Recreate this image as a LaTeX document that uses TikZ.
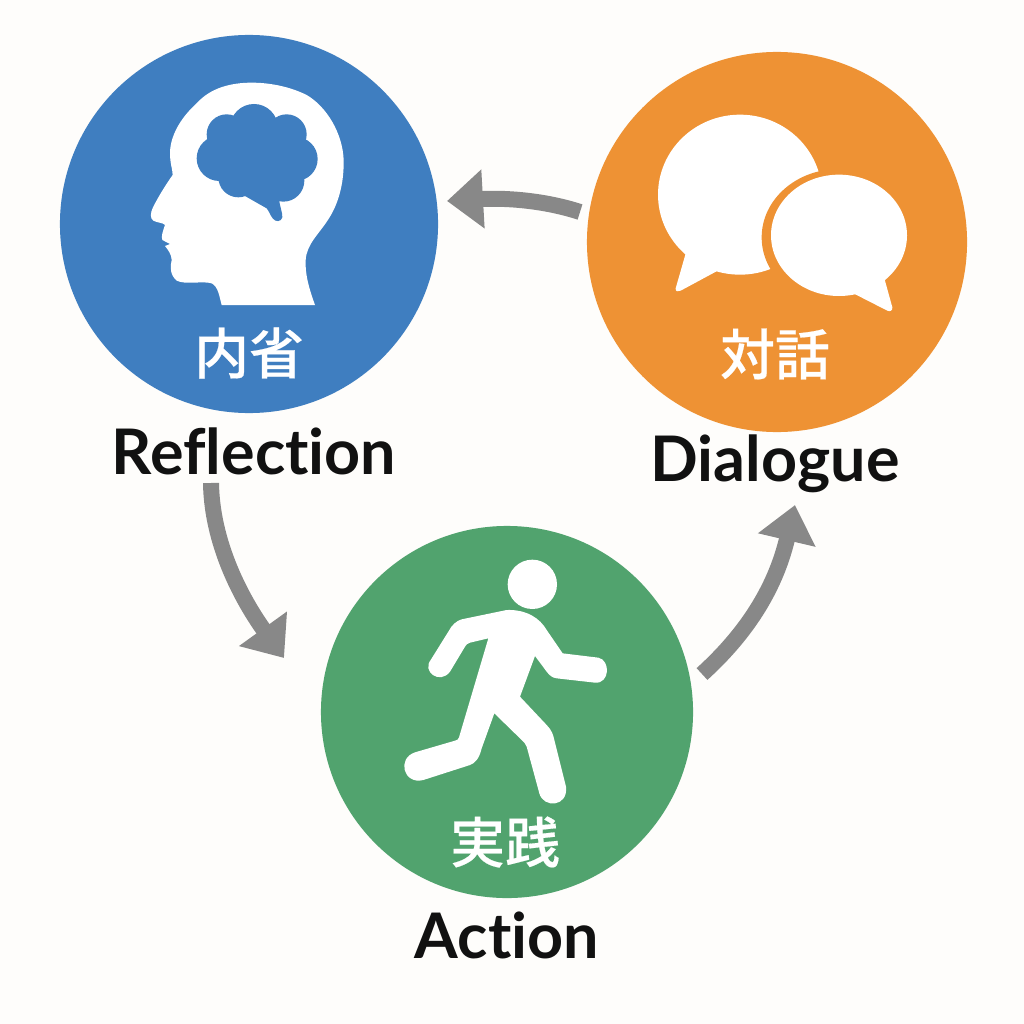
\documentclass[tikz,border=0pt]{standalone}
\usepackage{fontspec}
\setmainfont{Lato}[BoldFont={Lato Bold},Ligatures=NoCommon]
\newfontfamily\cjk{Noto Sans CJK JP Medium}[BoldFont={Noto Sans CJK JP Medium},BoldFeatures={FakeBold=0.3}]
\usetikzlibrary{arrows.meta}
\definecolor{paper}{HTML}{FEFDFB}
\definecolor{bluec}{HTML}{3F7EC0}
\definecolor{orangec}{HTML}{EE9234}
\definecolor{greenc}{HTML}{51A36E}
\definecolor{grayc}{HTML}{888888}
\definecolor{inkc}{HTML}{111111}
\tikzset{
  disc/.style={circle,inner sep=0pt,draw=none},
  jp/.style={text=white,inner sep=0pt,font=\cjk\bfseries\fontsize{39}{39}\selectfont},
  en/.style={text=inkc,inner sep=0pt,font=\bfseries\fontsize{44.7}{45}\selectfont},
  flow/.style={draw=grayc,line width=0.4cm,-{Triangle[length=0.9cm,width=1.42cm,fill=grayc]}}
}
\begin{document}
\begin{tikzpicture}[x=0.025cm,y=-0.025cm]
\useasboundingbox[fill=paper] (0,0) rectangle (1024,1024);
\node[disc,fill=bluec,minimum size=9.45cm] (refl) at (249,224) {};
\node[disc,fill=orangec,minimum size=9.5cm] (dial) at (777,242) {};
\node[disc,fill=greenc,minimum size=9.3cm] (act) at (507,712) {};
% head
\begin{scope}[shift={(130,90)},x=0.025cm/3,y=-0.025cm/3]
\fill[white] (275,645) -- (555,645) .. controls (535,590) and (525,550) .. (527,510)
 .. controls (530,460) and (570,430) .. (600,380)
 .. controls (630,330) and (642,270) .. (641,210)
 .. controls (638,130) and (590,50) .. (530,15)
 .. controls (480,-10) and (420,-22) .. (365,-22)
 .. controls (300,-22) and (240,-5) .. (200,40)
 .. controls (150,85) and (120,140) .. (120,190)
 .. controls (120,220) and (128,240) .. (128,255)
 .. controls (110,280) and (85,320) .. (70,350)
 .. controls (60,370) and (60,385) .. (70,392)
 .. controls (80,398) and (100,398) .. (105,405)
 .. controls (100,420) and (92,440) .. (97,450)
 -- (120,462) -- (105,468)
 .. controls (115,480) and (125,495) .. (125,510)
 .. controls (120,530) and (120,555) .. (140,572)
 .. controls (165,585) and (220,572) .. (245,580)
 .. controls (265,590) and (268,620) .. (275,645) -- cycle;
\fill[bluec] (372,114) circle [radius=72];
\fill[bluec] (290,133) circle [radius=60];
\fill[bluec] (470,133) circle [radius=60];
\fill[bluec] (268,205) circle [radius=68];
\fill[bluec] (497,207) circle [radius=66];
\fill[bluec] (325,262) circle [radius=60];
\fill[bluec] (460,272) circle [radius=63];
\fill[bluec] (380,205) circle [radius=115];
\fill[bluec] (345,318) -- (410,355) .. controls (418,365) and (422,378) .. (428,385)
 .. controls (436,397) and (454,396) .. (457,382)
 .. controls (458,370) and (450,350) .. (447,330) -- (400,280) -- cycle;
\end{scope}
% runner
\begin{scope}[shift={(390,550)},x=0.025cm/3,y=-0.025cm/3]
\fill[white] (427,103) circle [radius=74];
\fill[white] (215,208) -- (350,180) .. controls (410,178) and (450,205) .. (470,240)
 -- (518,310) -- (625,323) .. controls (662,330) and (660,402) .. (615,398)
 -- (500,385) .. controls (485,383) and (478,375) .. (470,365)
 -- (435,318) -- (390,440) -- (470,525) .. controls (485,540) and (490,555) .. (493,570)
 -- (528,710) .. controls (535,772) and (460,775) .. (448,730)
 -- (410,590) .. controls (407,580) and (400,575) .. (395,570)
 -- (313,490) -- (275,595) .. controls (268,625) and (255,640) .. (240,645)
 -- (100,690) .. controls (40,705) and (20,625) .. (75,607)
 -- (195,572) .. controls (203,570) and (205,568) .. (207,562)
 -- (295,265) -- (240,278) .. controls (232,280) and (228,285) .. (225,290)
 -- (180,365) .. controls (150,405) and (95,365) .. (122,330)
 -- (175,245) .. controls (185,225) and (200,212) .. (215,208) -- cycle;
\end{scope}
% bubbles
\begin{scope}[shift={(640,100)},x=0.025cm/3,y=-0.025cm/3]
\fill[white] (300,284) ellipse [x radius=246,y radius=240];
\fill[white] (140,450) -- (107,565) .. controls (105,575) and (115,576) .. (122,572) -- (250,503) -- cycle;
\fill[orangec] (597,412) ellipse [x radius=232,y radius=205];
\fill[white] (597,406) ellipse [x radius=204,y radius=182];
\fill[white] (733,535) -- (757,622) .. controls (758,632) and (750,636) .. (742,632) -- (640,580) -- cycle;
\end{scope}
% labels
\node[jp] (jrefl) at (249,353) {内省};
\node[jp] (jdial) at (775,354) {対話};
\node[jp] (jact) at (505,842) {実践};
\node[en] (erefl) at (254,451) {Reflection};
\node[en] (edial) at (775,464) {Dialogue};
\node[en] (eact) at (507,935) {Action};
% arrows
\coordinate (a1s) at (580,212);
\coordinate (a1e) at (447,201);
\coordinate (a2s) at (211,483);
\coordinate (a2e) at (284,658);
\coordinate (a3s) at (702,674);
\coordinate (a3e) at (795,505);
\draw[flow] (a1s) .. controls (540,199) and (500,198) .. (a1e);
\draw[flow] (a2s) .. controls (212,550) and (248,608) .. (a2e);
\draw[flow] (a3s) .. controls (745,635) and (775,590) .. (a3e);
\end{tikzpicture}
\end{document}
